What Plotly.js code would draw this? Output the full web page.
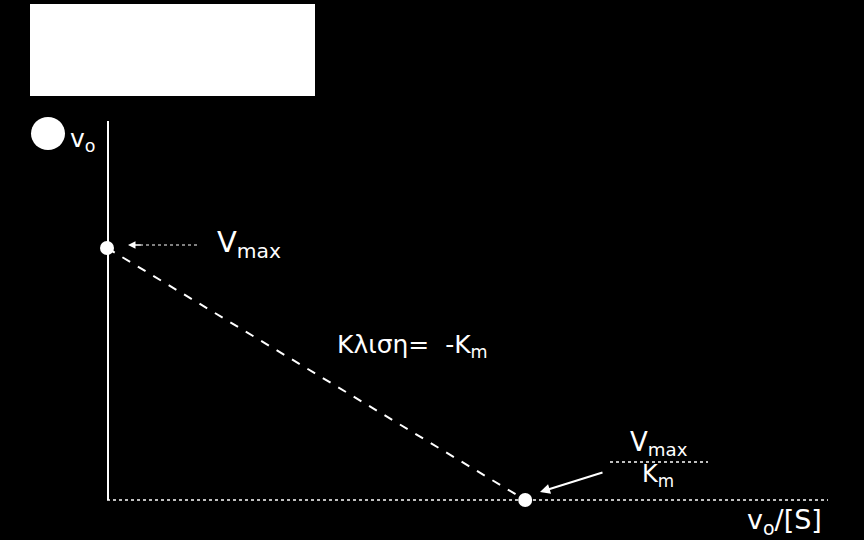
<!DOCTYPE html>
<html>
<head>
<meta charset="utf-8">
<script src="https://cdn.plot.ly/plotly-3.0.1.min.js"></script>
<style>html,body{margin:0;padding:0;background:#000;}</style>
</head>
<body>
<div id="chart" style="width:864px;height:540px;"></div>
<script>
// Data (Eadie–Hofstee plot: intercepts)
var pointLabels = ["Vmax", "Vmax/Km"];
var xValues = [0, 5.8];     // v0/[S]
var yValues = [6.65, 0];    // v0

// plot geometry helpers (pixel -> paper)
var L = 107, R = 828, T = 121, B = 500;
function px(x){ return (x - L) / (R - L); }
function py(y){ return (B - y) / (B - T); }

var font = "DejaVu Sans, Verdana, sans-serif";
var nb = "\u00a0";

var traces = [
  {x: xValues, y: yValues, mode: "lines", type: "scatter", cliponaxis: false,
   line: {color: "#fff", width: 2, dash: "dash"}, hoverinfo: "skip"},
  {x: xValues, y: yValues, mode: "markers", type: "scatter", text: pointLabels, cliponaxis: false,
   marker: {color: "#fff", size: 14}}
];

var layout = {
  width: 864, height: 540,
  paper_bgcolor: "#000", plot_bgcolor: "#000",
  showlegend: false,
  margin: {l: L, r: 864 - R, t: T, b: 540 - B},
  xaxis: {range: [0, 10], showgrid: false, zeroline: false, showticklabels: false,
          ticks: "", showline: false},
  yaxis: {range: [0, 10], showgrid: false, zeroline: false, showticklabels: false,
          ticks: "", showline: false},
  shapes: [
    {type: "rect", xref: "paper", yref: "paper", x0: px(30), x1: px(315), y0: py(96), y1: py(4),
     fillcolor: "#fff", line: {width: 0}, layer: "below"},
    {type: "circle", xref: "paper", yref: "paper", x0: px(31), x1: px(65), y0: py(150), y1: py(117),
     fillcolor: "#fff", line: {width: 0}},
    {type: "line", xref: "paper", yref: "paper", x0: px(108), x1: px(108), y0: 0, y1: 1,
     line: {color: "#fff", width: 2}, layer: "below"},
    {type: "line", xref: "paper", yref: "paper", x0: px(107), x1: 1, y0: 0, y1: 0,
     line: {color: "#fff", width: 1.5, dash: "dot"}, layer: "below"},
    {type: "line", xref: "paper", yref: "paper", x0: px(610), x1: px(708), y0: py(462), y1: py(462),
     line: {color: "#fff", width: 1.5, dash: "dot"}},
    {type: "line", xref: "paper", yref: "paper", x0: px(140), x1: px(197), y0: py(245), y1: py(245),
     line: {color: "#fff", width: 1, dash: "dot"}}
  ],
  annotations: [
    {xref: "paper", yref: "paper", x: px(68), y: py(140), xanchor: "left", yanchor: "middle",
     text: "v<sub>o</sub>", showarrow: false, font: {family: font, size: 25, color: "#fff"}},
    {xref: "paper", yref: "paper", x: px(215), y: py(244), xanchor: "left", yanchor: "middle",
     text: "V<sub>max</sub>", showarrow: false, font: {family: font, size: 29, color: "#fff"}},
    {xref: "paper", yref: "paper", x: px(335), y: py(346), xanchor: "left", yanchor: "middle",
     text: "Κλιση=" + nb + nb + "-K<sub>m</sub>", showarrow: false,
     font: {family: font, size: 25, color: "#fff"}},
    {xref: "paper", yref: "paper", x: px(659), y: py(443), xanchor: "center", yanchor: "middle",
     text: "V<sub>max</sub>", showarrow: false, font: {family: font, size: 26, color: "#fff"}},
    {xref: "paper", yref: "paper", x: px(658), y: py(475), xanchor: "center", yanchor: "middle",
     text: "K<sub>m</sub>", showarrow: false, font: {family: font, size: 24, color: "#fff"}},
    {xref: "paper", yref: "paper", x: px(824), y: py(521), xanchor: "right", yanchor: "middle",
     text: "v<sub>o</sub>/[S]", showarrow: false, font: {family: font, size: 27, color: "#fff"}},
    {xref: "paper", yref: "paper", x: px(128), y: py(245), ax: 14, ay: 0, text: "",
     showarrow: true, arrowhead: 2, arrowsize: 1, arrowwidth: 1.5, arrowcolor: "#fff"},
    {xref: "paper", yref: "paper", x: px(540), y: py(492), ax: 64, ay: -20, text: "",
     showarrow: true, arrowhead: 2, arrowsize: 1, arrowwidth: 2, arrowcolor: "#fff"}
  ]
};

Plotly.newPlot("chart", traces, layout, {displayModeBar: false, staticPlot: true});
</script>
</body>
</html>
